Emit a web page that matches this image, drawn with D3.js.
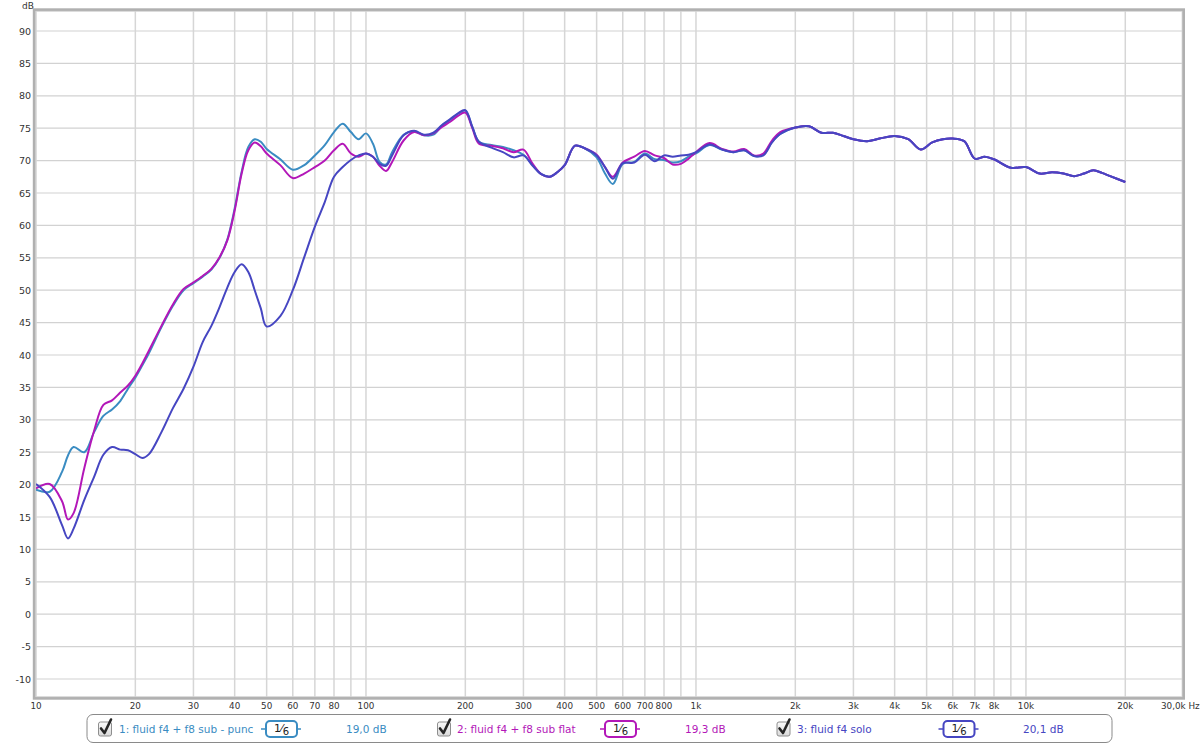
<!DOCTYPE html>
<html><head><meta charset="utf-8">
<script src="https://cdn.jsdelivr.net/npm/d3@7"></script>
<style>body{margin:0;background:#fff}svg{display:block}</style>
</head><body><svg id="c" width="1200" height="745"></svg>
<script>
// ---------- DATA ----------
const freqs = [
  10,11,12,12.5,13,14,15,16,17,18,19,20,21,22,
  24,26,28,30,32,34,36,38,40,42,44,46,48,50,
  55,60,65,70,75,80,85,90,95,100,105,110,115,120,
  130,140,150,160,170,180,190,200,210,220,240,260,280,300,
  320,340,360,380,400,430,460,500,530,560,600,650,700,750,
  800,850,900,950,1000,1100,1200,1300,1400,1500,1600,1700,1800,2000,
  2200,2400,2600,2800,3000,3300,3600,4000,4400,4800,5200,5600,6000,6500,
  7000,7500,8000,9000,10000,11000,12000,13000,14000,15000,16000,17000,18000,20000
];
const puncDb = [
  19.2,18.9,22.0,24.5,25.8,25.0,28.1,30.6,31.6,32.9,34.8,36.5,38.4,40.3,
  44.3,47.6,50.0,51.1,52.1,53.2,55.0,57.8,62.6,68.3,72.1,73.3,72.9,71.8,
  70.2,68.6,69.3,70.8,72.4,74.4,75.7,74.4,73.3,74.2,72.6,69.8,69.4,71.3,
  74.0,74.5,73.9,74.0,75.4,76.3,77.2,77.7,75.2,72.9,72.4,72.1,71.6,70.9,
  69.3,67.9,67.5,68.2,69.3,72.3,71.9,70.5,68.0,66.4,69.5,69.8,71.1,70.2,
  70.1,69.7,69.9,70.6,71.1,72.4,71.7,71.3,71.6,70.7,70.9,72.9,74.1,75.1,
  75.3,74.3,74.3,73.8,73.3,73.0,73.4,73.8,73.3,71.7,72.8,73.3,73.4,73.0,
  70.3,70.6,70.2,68.9,69.0,68.0,68.2,68.0,67.6,68.0,68.5,68.1,67.6,66.7
];
const flatDb = [
  19.4,20.1,17.4,14.6,15.6,22.5,28.3,32.3,33.0,34.2,35.3,36.8,38.7,40.7,
  44.5,47.8,50.2,51.2,52.2,53.3,55.1,57.7,62.3,68.0,71.6,72.8,72.2,71.1,
  69.3,67.3,68.0,69.0,70.0,71.6,72.6,71.1,70.6,71.1,70.6,69.2,68.4,69.8,
  73.1,74.4,73.9,74.2,75.2,76.0,76.9,77.4,75.0,72.6,72.3,71.9,71.3,71.7,
  69.5,67.9,67.5,68.2,69.3,72.3,71.9,70.9,69.0,67.5,69.7,70.6,71.5,70.8,
  70.4,69.4,69.5,70.3,71.3,72.7,71.8,71.4,71.8,70.8,71.1,73.1,74.4,75.1,
  75.3,74.3,74.3,73.8,73.3,73.0,73.4,73.8,73.3,71.7,72.8,73.3,73.4,73.0,
  70.3,70.6,70.2,68.9,69.0,68.0,68.2,68.0,67.6,68.0,68.5,68.1,67.6,66.7
];
const soloDb = [
  20.1,18.1,13.7,11.7,13.2,17.6,21.2,24.6,25.8,25.4,25.3,24.7,24.1,24.7,
  28.1,31.8,34.8,38.2,42.0,44.5,47.4,50.4,52.8,54.0,52.8,50.0,47.2,44.4,
  46.0,50.0,55.1,59.8,63.6,67.5,69.0,70.1,70.8,71.1,70.6,69.5,69.2,70.8,
  73.9,74.6,74.0,74.3,75.5,76.4,77.3,77.8,75.2,72.9,72.0,71.3,70.5,70.8,
  69.2,67.9,67.5,68.2,69.3,72.3,71.9,70.8,69.0,67.2,69.6,69.7,70.9,69.9,
  70.8,70.6,70.8,70.9,71.3,72.5,71.7,71.3,71.6,70.7,70.8,72.8,74.1,75.1,
  75.3,74.3,74.3,73.8,73.3,73.0,73.4,73.8,73.3,71.7,72.8,73.3,73.4,73.0,
  70.3,70.6,70.2,68.9,69.0,68.0,68.2,68.0,67.6,68.0,68.5,68.1,67.6,66.7
];
const seriesNames = ["1: fluid f4 + f8 sub - punc", "2: fluid f4 + f8 sub flat", "3: fluid f4 solo"];
const seriesLevels = ["19,0 dB", "19,3 dB", "20,1 dB"];
const seriesColors = ["#3a8cc2", "#b317b8", "#4646c2"];
const yTicks = [-10,-5,0,5,10,15,20,25,30,35,40,45,50,55,60,65,70,75,80,85,90];
const xGrid = [10,20,30,40,50,60,70,80,90,100,200,300,400,500,600,700,800,900,
               1000,2000,3000,4000,5000,6000,7000,8000,9000,10000,20000];
const xTickVals = [10,20,30,40,50,60,70,80,100,200,300,400,500,600,700,800,
                   1000,2000,3000,4000,5000,6000,7000,8000,10000,20000];
const xTickText = ["10","20","30","40","50","60","70","80","100","200","300","400","500","600","700","800",
                   "1k","2k","3k","4k","5k","6k","7k","8k","10k","20k"];
const xEndLabel = "30,0k Hz";
const yUnit = "dB";

// ---------- CHART ----------
const svg = d3.select("#c");
const font = "'DejaVu Sans', Verdana, sans-serif";
const x = d3.scaleLog().domain([10, 30000]).range([36, 1183.4]);
const y = d3.scaleLinear().domain([-10, 90]).range([679, 31]);
const plotTop = 10, plotBottom = 698;

svg.append("rect").attr("width",1200).attr("height",745).attr("fill","#fff");

// grid
svg.append("g").selectAll("line").data(yTicks).join("line")
  .attr("x1", x(10)).attr("x2", x(30000))
  .attr("y1", d => y(d)).attr("y2", d => y(d))
  .attr("stroke", "#d2d2d2").attr("stroke-width", 1.2);
svg.append("g").selectAll("line").data(xGrid).join("line")
  .attr("x1", d => x(d)).attr("x2", d => x(d))
  .attr("y1", plotTop).attr("y2", plotBottom)
  .attr("stroke", "#d6d6d6").attr("stroke-width", 1.5);

// frame
svg.append("rect").attr("x", 34.3).attr("y", 9.8).attr("width", 1149.2).attr("height", 688.4)
  .attr("fill", "none").attr("stroke", "#b0b0b0").attr("stroke-width", 3);
svg.append("rect").attr("x", 35.8).attr("y", 11.3).attr("width", 1146.2).attr("height", 685.4)
  .attr("fill", "none").attr("stroke", "#d8d8d8").attr("stroke-width", 0.8);

// y labels
svg.append("g").selectAll("text").data(yTicks).join("text")
  .attr("x", 31).attr("y", d => y(d) + 3.5).attr("text-anchor", "end")
  .attr("font-family", font).attr("font-size", 9.5).attr("fill", "#333")
  .text(d => d < 0 ? "-" + Math.abs(d) : d);
svg.append("text").attr("x", 22).attr("y", 8.5).attr("font-family", font)
  .attr("font-size", 9).attr("fill", "#333").text(yUnit);

// x labels
svg.append("g").selectAll("text").data(xTickVals).join("text")
  .attr("x", d => x(d)).attr("y", 709).attr("text-anchor", "middle")
  .attr("font-family", font).attr("font-size", 8.8).attr("fill", "#333")
  .text((d, i) => xTickText[i]);
svg.append("text").attr("x", 1161).attr("y", 709)
  .attr("font-family", font).attr("font-size", 8.8).attr("fill", "#333").text(xEndLabel);

// curves
svg.append("clipPath").attr("id", "pc").append("rect")
  .attr("x", 36).attr("y", 11).attr("width", 1147).attr("height", 686);
const line = d3.line().x((d, i) => x(freqs[i])).y(d => y(d)).curve(d3.curveCatmullRom.alpha(0.5));
const allSeries = [puncDb, flatDb, soloDb];
const gl = svg.append("g").attr("clip-path", "url(#pc)");
allSeries.forEach((s, k) => {
  gl.append("path").attr("d", line(s)).attr("fill", "none")
    .attr("stroke", seriesColors[k]).attr("stroke-width", 2).attr("stroke-linejoin", "round");
});

// legend
const lg = svg.append("g");
lg.append("rect").attr("x", 87).attr("y", 714.5).attr("width", 1025).attr("height", 28)
  .attr("rx", 6).attr("fill", "#fff").attr("stroke", "#8a8a8a").attr("stroke-width", 1);
const defs = svg.append("defs");
const gr = defs.append("linearGradient").attr("id", "cb").attr("x1", 0).attr("y1", 0).attr("x2", 0).attr("y2", 1);
gr.append("stop").attr("offset", 0).attr("stop-color", "#fbfbfb");
gr.append("stop").attr("offset", 1).attr("stop-color", "#d9d9d9");

const cbX = [98.5, 437.5, 777];
const txX = [119, 457, 797];
const bdX = [266, 605, 943.5];
const lvX = [346, 685, 1023];
const cy = 729;
seriesNames.forEach((name, k) => {
  const c = seriesColors[k];
  lg.append("rect").attr("x", cbX[k]).attr("y", 722).attr("width", 13).attr("height", 14)
    .attr("rx", 2).attr("fill", "url(#cb)").attr("stroke", "#8e8e8e").attr("stroke-width", 1);
  lg.append("path").attr("d", `M${cbX[k]+2.5},${728.5} L${cbX[k]+6},${733} L${cbX[k]+12.5},${719.5}`)
    .attr("fill", "none").attr("stroke", "#262626").attr("stroke-width", 2.6)
    .attr("stroke-linecap", "round").attr("stroke-linejoin", "round");
  lg.append("text").attr("x", txX[k]).attr("y", cy + 4).attr("font-family", font)
    .attr("font-size", 10.5).attr("fill", c).text(name);
  lg.append("line").attr("x1", bdX[k] - 5).attr("x2", bdX[k] + 35).attr("y1", cy).attr("y2", cy)
    .attr("stroke", c).attr("stroke-width", 1.6);
  lg.append("rect").attr("x", bdX[k]).attr("y", 721).attr("width", 31).attr("height", 16)
    .attr("rx", 4).attr("fill", "#fff").attr("stroke", c).attr("stroke-width", 2);
  const bt = lg.append("text").attr("x", bdX[k] + 15.5).attr("y", cy + 3.5).attr("text-anchor", "middle")
    .attr("font-family", font).attr("font-size", 11).attr("fill", "#222");
  bt.append("tspan").attr("dy", -1).text("1");
  bt.append("tspan").attr("dy", 0).text("\u2044");
  bt.append("tspan").attr("dy", 3).attr("font-size", 10).text("6");
  lg.append("text").attr("x", lvX[k]).attr("y", cy + 4).attr("font-family", font)
    .attr("font-size", 10.5).attr("fill", c).text(seriesLevels[k]);
});
</script></body></html>
